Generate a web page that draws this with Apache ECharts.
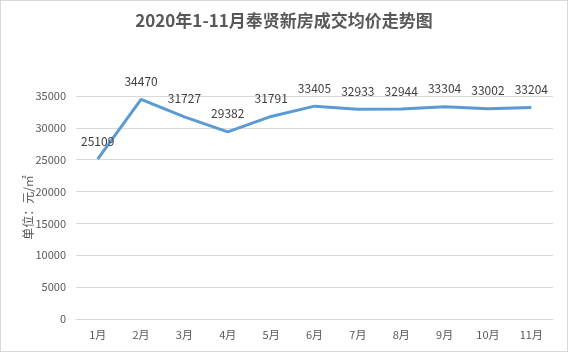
<!DOCTYPE html>
<html>
<head>
<meta charset="utf-8">
<script src="https://cdn.jsdelivr.net/npm/echarts@6/dist/echarts.min.js"></script>
<style>
  html, body { margin: 0; padding: 0; background: #fff; }
  #chart-box { width: 568px; height: 352px; box-sizing: border-box; border: 1px solid #d9d9d9; }
  #chart { width: 100%; height: 100%; }
</style>
</head>
<body>
<div id="chart-box"><div id="chart"></div></div>
<script>
// 月份
const months = ["1月", "2月", "3月", "4月", "5月", "6月", "7月", "8月", "9月", "10月", "11月"];
// 成交均价（元/㎡）
const avgPrice = [25109, 34470, 31727, 29382, 31791, 33405, 32933, 32944, 33304, 33002, 33204];

const fontCN = '"Noto Sans CJK SC", "Noto Sans", sans-serif';

const options = {
  animation: false,
  title: {
    text: "2020年1-11月奉贤新房成交均价走势图",
    left: "center",
    top: 6,
    textStyle: { color: "#595959", fontSize: 17, fontWeight: "bold", fontFamily: fontCN },
  },
  grid: { left: 75, right: 14, top: 95, bottom: 32 },
  xAxis: {
    type: "category",
    data: months,
    axisLine: { lineStyle: { color: "#d9d9d9" } },
    axisTick: { show: false },
    axisLabel: { color: "#595959", fontSize: 11, fontFamily: fontCN, margin: 10 },
  },
  yAxis: {
    type: "value",
    min: 0,
    max: 35000,
    interval: 5000,
    name: "单位：元/㎡",
    nameLocation: "middle",
    nameGap: 42,
    nameMoveOverlap: false,
    nameTextStyle: { color: "#595959", fontSize: 12, fontFamily: fontCN },
    axisLine: { show: false },
    axisTick: { show: false },
    axisLabel: {
      color: "#595959",
      fontSize: 11,
      fontFamily: fontCN,
      margin: 10,
      formatter: (v) => String(v),
    },
    splitLine: { lineStyle: { color: "#d9d9d9" } },
  },
  series: [
    {
      type: "line",
      data: avgPrice,
      symbol: "circle",
      symbolSize: 0.1,
      showSymbol: true,
      itemStyle: { color: "#5b9bd5" },
      lineStyle: { color: "#5b9bd5", width: 3 },
      label: {
        show: true,
        position: "top",
        distance: 12,
        color: "#404040",
        fontSize: 12,
        fontFamily: fontCN,
      },
    },
  ],
};

const myChart = echarts.init(document.getElementById("chart"));
myChart.setOption(options);
</script>
</body>
</html>
